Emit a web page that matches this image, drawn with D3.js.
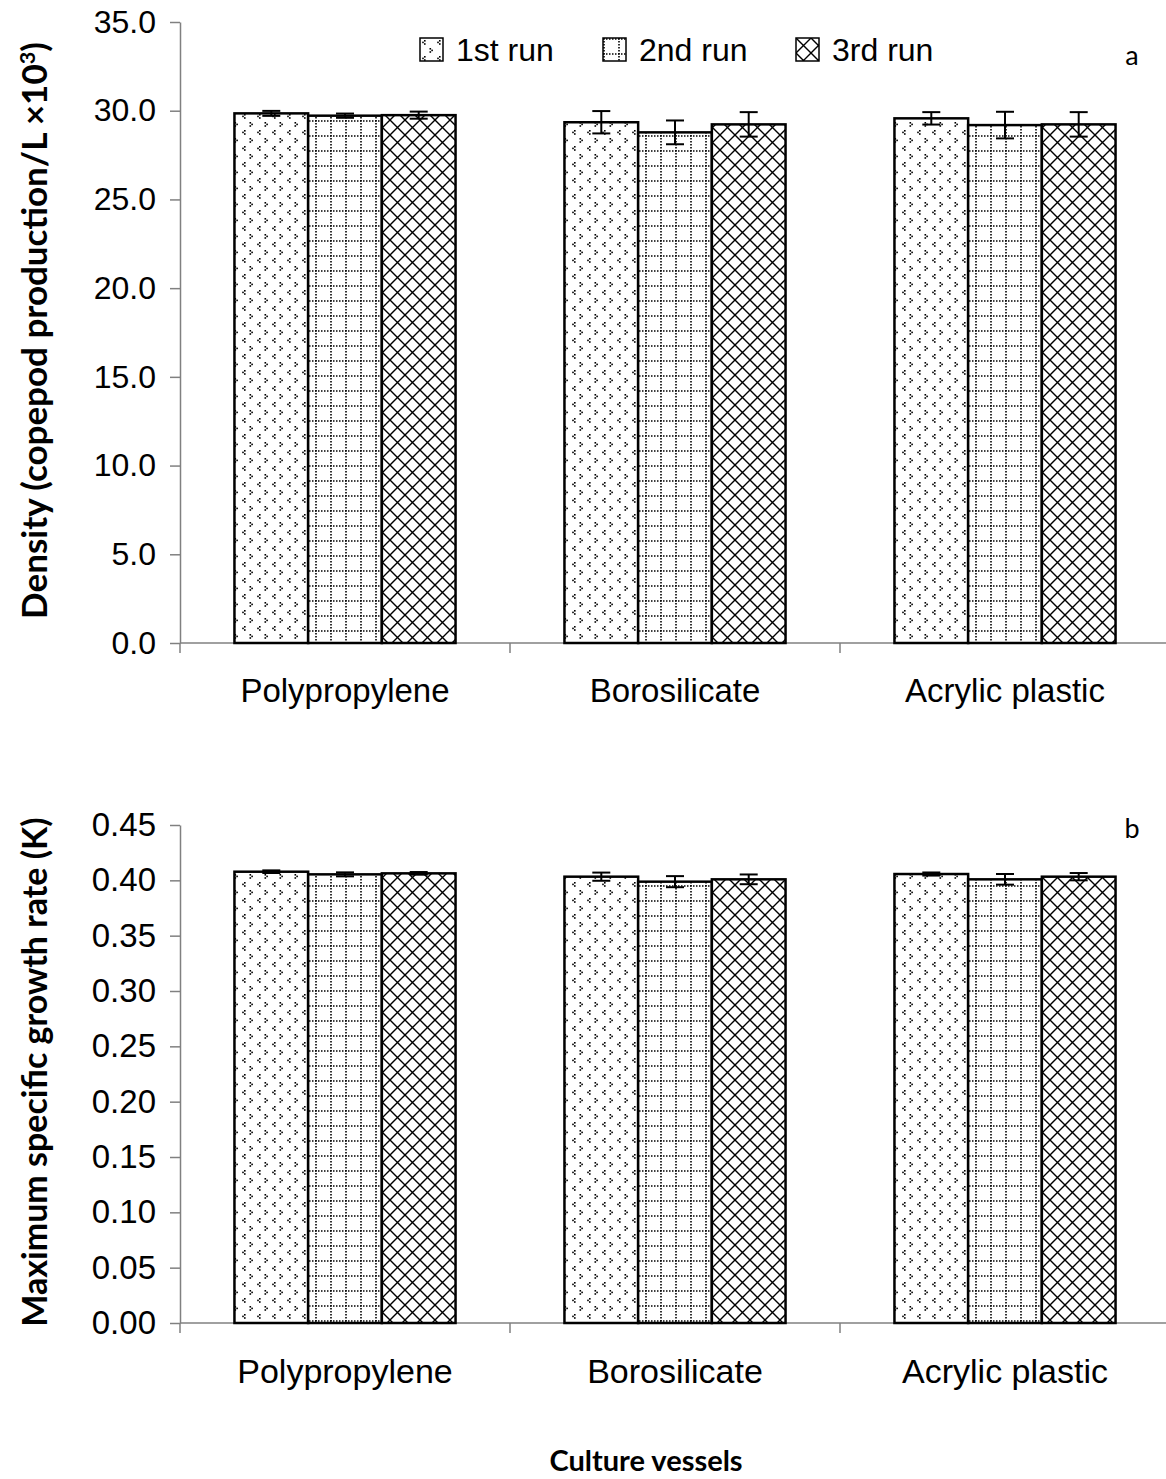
<!DOCTYPE html>
<html>
<head>
<meta charset="utf-8">
<script src="https://cdn.jsdelivr.net/npm/d3@7"></script>
<style>
  body { margin: 0; background: #fff; }
  svg { display: block; }
  .tick text { font-family: "Liberation Sans", Arial, sans-serif; fill: #000; }
  .cat-label { font-family: "Liberation Sans", Arial, sans-serif; fill: #000; }
  .axis-title { font-family: Lato, "Open Sans", sans-serif; font-weight: bold; fill: #000; }
  .legend text { font-family: "Liberation Sans", Arial, sans-serif; fill: #000; }
</style>
</head>
<body>
<svg width="1166" height="1479"></svg>
<script>
(function (d3) {
  'use strict';

  // chart data
  const categories = ['Polypropylene', 'Borosilicate', 'Acrylic plastic'];
  const series = ['1st run', '2nd run', '3rd run'];

  // panel a: density (x10^3 per L), rows = series, cols = categories
  const densityMeans = [
    [29.85, 29.35, 29.57],
    [29.72, 28.78, 29.19],
    [29.75, 29.23, 29.23]
  ];
  const densityErrors = [
    [0.14, 0.63, 0.35],
    [0.12, 0.67, 0.75],
    [0.2, 0.69, 0.69]
  ];
  const densityTicks = [0, 5, 10, 15, 20, 25, 30, 35];

  // panel b: maximum specific growth rate (K)
  const growthMeans = [
    [0.4078, 0.4033, 0.4057],
    [0.4054, 0.3988, 0.4009],
    [0.4063, 0.4009, 0.4033]
  ];
  const growthErrors = [
    [0.0012, 0.0037, 0.0014],
    [0.0018, 0.005, 0.0048],
    [0.0012, 0.0044, 0.0033]
  ];
  const growthTicks = [0, 0.05, 0.1, 0.15, 0.2, 0.25, 0.3, 0.35, 0.4, 0.45];

  const svg = d3.select('svg');
  const defs = svg.append('defs');

  // pattern 1: little "<" and ">" dot chevrons
  const p1 = defs.append('pattern').attr('id', 'pat1')
    .attr('patternUnits', 'userSpaceOnUse').attr('width', 15).attr('height', 16);
  p1.append('rect').attr('width', 15).attr('height', 16).attr('fill', '#fff');
  const chev = [
    [4, 2], [2.2, 3.6], [4, 5.2],       // <
    [9.5, 10], [11.3, 11.6], [9.5, 13.2]  // >
  ];
  p1.selectAll('rect.d').data(chev).enter().append('rect')
    .attr('class', 'd')
    .attr('x', d => d[0]).attr('y', d => d[1])
    .attr('width', 1.6).attr('height', 1.6).attr('fill', '#000');

  // pattern 2: dotted grid
  const p2 = defs.append('pattern').attr('id', 'pat2')
    .attr('patternUnits', 'userSpaceOnUse').attr('width', 15).attr('height', 15);
  p2.append('rect').attr('width', 15).attr('height', 15).attr('fill', '#fff');
  p2.append('line').attr('x1', 0).attr('x2', 15).attr('y1', 1).attr('y2', 1)
    .attr('stroke', '#000').attr('stroke-width', 1.6).attr('stroke-dasharray', '1.5,1.5');
  p2.append('line').attr('x1', 1).attr('x2', 1).attr('y1', 0).attr('y2', 15)
    .attr('stroke', '#000').attr('stroke-width', 1.6).attr('stroke-dasharray', '1.5,1.5');

  // pattern 3: diagonal cross hatch
  const p3 = defs.append('pattern').attr('id', 'pat3')
    .attr('patternUnits', 'userSpaceOnUse').attr('width', 15).attr('height', 15);
  p3.append('rect').attr('width', 15).attr('height', 15).attr('fill', '#fff');
  p3.append('path').attr('d', 'M0,0L15,15M15,0L0,15M-2,13L2,17M13,-2L17,2M-2,2L2,-2M13,17L17,13')
    .attr('stroke', '#000').attr('stroke-width', 1.4);

  const fills = ['url(#pat1)', 'url(#pat2)', 'url(#pat3)'];

  const margin = { left: 180, right: -4 };
  const width = +svg.attr('width');
  const innerWidth = width - margin.left - margin.right;

  const render = opts => {
    const { top, bottom, means, errors, ticks, fmt, fontSize, title, titleSize, labelY, tag, tagY } = opts;

    const yScale = d3.scaleLinear()
      .domain([0, d3.max(ticks)])
      .range([bottom, top]);

    const x0 = d3.scaleBand().domain(categories).range([0, innerWidth]);
    const gap = x0.bandwidth() * 0.165;
    const x1 = d3.scaleBand().domain(series).range([gap, x0.bandwidth() - gap]);

    const g = svg.append('g').attr('transform', `translate(${margin.left},0)`);

    // y axis
    const yAxis = d3.axisLeft(yScale)
      .tickValues(ticks)
      .tickFormat(d3.format(fmt))
      .tickSize(10)
      .tickSizeOuter(0)
      .tickPadding(14);
    const yAxisG = g.append('g').call(yAxis);
    yAxisG.selectAll('.domain, line').attr('stroke', '#808080').attr('stroke-width', 1.5);
    yAxisG.selectAll('text').style('font-size', fontSize + 'px');

    // x axis line and category boundary ticks
    const xAxisG = g.append('g').attr('transform', `translate(0,${bottom})`);
    xAxisG.append('line')
      .attr('x1', 0).attr('x2', innerWidth)
      .attr('stroke', '#808080').attr('stroke-width', 1.5);
    const bounds = categories.map(c => x0(c)).concat([x0(categories[2]) + x0.bandwidth()]);
    xAxisG.selectAll('line.bt').data(bounds).enter().append('line')
      .attr('class', 'bt')
      .attr('x1', d => d).attr('x2', d => d)
      .attr('y1', 0).attr('y2', 10)
      .attr('stroke', '#808080').attr('stroke-width', 1.5);

    // category labels
    g.selectAll('text.cat-label').data(categories).enter().append('text')
      .attr('class', 'cat-label')
      .attr('x', d => x0(d) + x0.bandwidth() / 2)
      .attr('y', labelY)
      .attr('text-anchor', 'middle')
      .style('font-size', (fontSize + 1) + 'px')
      .text(d => d);

    // bars
    const cells = [];
    series.forEach((s, si) => {
      categories.forEach((c, ci) => {
        cells.push({ s, si, c, v: means[si][ci], e: errors[si][ci] });
      });
    });

    g.selectAll('rect.bar').data(cells).enter().append('rect')
      .attr('class', 'bar')
      .attr('x', d => x0(d.c) + x1(d.s))
      .attr('width', x1.bandwidth())
      .attr('y', d => yScale(d.v))
      .attr('height', d => yScale(0) - yScale(d.v))
      .attr('fill', d => fills[d.si])
      .attr('stroke', '#000')
      .attr('stroke-width', 2.5);

    // error bars
    const eb = g.selectAll('g.err').data(cells).enter().append('g')
      .attr('class', 'err')
      .attr('transform', d => `translate(${x0(d.c) + x1(d.s) + x1.bandwidth() / 2},0)`);
    eb.append('line')
      .attr('y1', d => yScale(d.v + d.e)).attr('y2', d => yScale(d.v - d.e))
      .attr('stroke', '#000').attr('stroke-width', 2);
    eb.append('line')
      .attr('x1', -9).attr('x2', 9)
      .attr('y1', d => yScale(d.v + d.e)).attr('y2', d => yScale(d.v + d.e))
      .attr('stroke', '#000').attr('stroke-width', 2);
    eb.append('line')
      .attr('x1', -9).attr('x2', 9)
      .attr('y1', d => yScale(d.v - d.e)).attr('y2', d => yScale(d.v - d.e))
      .attr('stroke', '#000').attr('stroke-width', 2);

    // y axis title
    const yt = svg.append('text')
      .attr('class', 'axis-title')
      .attr('transform', `translate(47,${(top + bottom) / 2 - 2}) rotate(-90)`)
      .attr('text-anchor', 'middle')
      .style('font-size', titleSize + 'px');
    title.forEach(part => {
      const t = yt.append('tspan').text(part.text);
      if (part.sup) t.attr('dy', -12).style('font-size', (titleSize * 0.62) + 'px');
      if (part.after) t.attr('dy', 12);
    });

    // panel letter
    svg.append('text')
      .attr('class', 'axis-title')
      .attr('x', 1132).attr('y', tagY)
      .attr('text-anchor', 'middle')
      .style('font-weight', 'normal')
      .style('font-size', '27px')
      .text(tag);
  };

  render({
    top: 22, bottom: 643,
    means: densityMeans, errors: densityErrors, ticks: densityTicks,
    fmt: '.1f', fontSize: 32, labelY: 702,
    title: [{ text: 'Density (copepod production/L \u00d710' }, { text: '3', sup: true }, { text: ')', after: true }],
    titleSize: 35, tag: 'a', tagY: 65
  });

  render({
    top: 825, bottom: 1323,
    means: growthMeans, errors: growthErrors, ticks: growthTicks,
    fmt: '.2f', fontSize: 33, labelY: 1383,
    title: [{ text: 'Maximum specific growth rate (K)' }],
    titleSize: 34, tag: 'b', tagY: 838
  });

  // legend
  const legend = svg.append('g').attr('class', 'legend');
  const legendX = [420, 603, 796];
  const li = legend.selectAll('g').data(series).enter().append('g')
    .attr('transform', (d, i) => `translate(${legendX[i]},38)`);
  li.append('rect')
    .attr('width', 23).attr('height', 23)
    .attr('fill', (d, i) => fills[i])
    .attr('stroke', '#000').attr('stroke-width', 1.5);
  li.append('text')
    .attr('x', 36).attr('y', 23)
    .style('font-size', '32px')
    .text(d => d);

  // x axis title
  svg.append('text')
    .attr('class', 'axis-title')
    .attr('x', 646).attr('y', 1471)
    .attr('text-anchor', 'middle')
    .style('font-size', '29px')
    .text('Culture vessels');

}(d3));
</script>
</body>
</html>
